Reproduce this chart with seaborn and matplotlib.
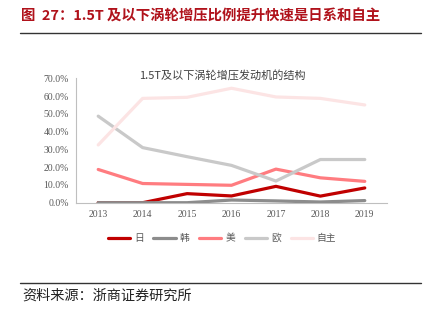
import matplotlib
matplotlib.use("Agg")
import matplotlib.pyplot as plt
import seaborn as sns
import pandas as pd
from matplotlib.ticker import FuncFormatter, FixedLocator

years = ["2013", "2014", "2015", "2016", "2017", "2018", "2019"]
series_names = ["日", "韩", "美", "欧", "自主"]
ri = [0.0, 0.0, 5.1, 3.8, 9.2, 3.7, 8.3]
han = [0.0, 0.0, 0.0, 1.5, 1.0, 0.4, 1.2]
mei = [18.7, 10.8, 10.3, 9.8, 18.9, 14.0, 12.0]
ou = [48.7, 31.0, 25.9, 21.0, 12.2, 24.3, 24.3]
zizhu = [32.5, 58.7, 59.3, 64.4, 59.5, 58.7, 55.0]
colors = ["#C00000", "#8C8C8C", "#FF7C80", "#C9C9C9", "#FCE4E4"]

values = [ri, han, mei, ou, zizhu]
rows = []
for name, vals in zip(series_names, values):
    for i, (y, v) in enumerate(zip(years, vals)):
        rows.append({"idx": i, "year": y, "series": name, "value": v / 100})
df = pd.DataFrame(rows)

sns.set_theme(style="white")
plt.rcParams['font.family'] = ['Noto Sans CJK SC', 'DejaVu Sans']

fig = plt.figure(figsize=(4.27, 3.22), dpi=100)
ax = fig.add_axes([76/427, 1-202.7/322, (387-76)/427, (202.7-78.3)/322])

sns.lineplot(data=df, x="idx", y="value", hue="series", hue_order=series_names,
             palette=colors, linewidth=2.3, ax=ax, legend=True, zorder=3)

ax.set_xlim(-0.5, 6.5)
ax.set_ylim(0, 0.7)
ax.set_xticks(range(len(years)))
ax.set_xticklabels(years)
ax.xaxis.set_minor_locator(FixedLocator([i + 0.5 for i in range(-1, 7)]))
ax.tick_params(axis="x", which="major", length=0, pad=5)
ax.tick_params(axis="x", which="minor", length=3, color="#BFBFBF", direction="in")
ax.set_yticks([i / 10 for i in range(8)])
ax.yaxis.set_major_formatter(FuncFormatter(lambda v, p: f"{v*100:.1f}%"))
ax.tick_params(axis="y", length=3, color="#BFBFBF", direction="out", pad=2)
for lab in ax.get_xticklabels() + ax.get_yticklabels():
    lab.set_fontfamily("Liberation Serif")
    lab.set_fontsize(7)
    lab.set_color("#595959")
ax.set_xlabel("")
ax.set_ylabel("")
for s in ["top", "right"]:
    ax.spines[s].set_visible(False)
for s in ["left", "bottom"]:
    ax.spines[s].set_color("#BFBFBF")
    ax.spines[s].set_linewidth(0.8)
ax.set_facecolor("white")

handles, labels = ax.get_legend_handles_labels()
ax.get_legend().remove()
leg = fig.legend(handles, labels, loc="center", bbox_to_anchor=(222/427, 1-238/322),
                 ncol=5, frameon=False, fontsize=7, handlelength=2.3,
                 columnspacing=1.0, handletextpad=0.4)
for t in leg.get_texts():
    t.set_color("#595959")

fig.text(222/427, 1-75/322, "1.5T及以下涡轮增压发动机的结构", ha="center", va="center",
         fontsize=8, color="#404040")

fig.text(21/427, 1-17/322, "图  27：1.5T 及以下涡轮增压比例提升快速是日系和自主",
         ha="left", va="center", fontsize=10.4, fontweight="bold", color="#B0121B")
fig.add_artist(plt.Line2D([20/427, 421/427], [1-33/322, 1-33/322], color="#333333", lw=1.0))
fig.add_artist(plt.Line2D([20/427, 421/427], [1-283/322, 1-283/322], color="#333333", lw=1.0))
fig.text(22/427, 1-296/322, "资料来源：浙商证券研究所", ha="left", va="center",
         fontsize=10.2, color="#222222")

fig.savefig("out.png", dpi=100, facecolor="white")
